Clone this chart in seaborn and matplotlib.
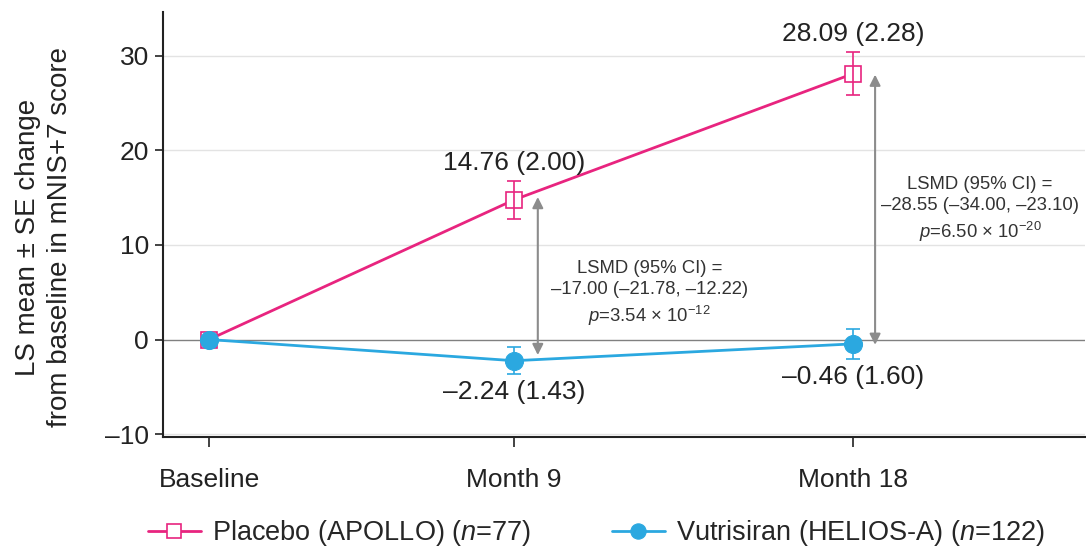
import matplotlib
matplotlib.use("Agg")
import matplotlib.pyplot as plt
import seaborn as sns
import pandas as pd

# ---- data ----
timepoints = ["Baseline", "Month 9", "Month 18"]
x_pos = [0, 9, 19]
placebo_mean = [0.0, 14.76, 28.09]
placebo_se = [0.0, 2.00, 2.28]
vutri_mean = [0.0, -2.24, -0.46]
vutri_se = [0.0, 1.43, 1.60]
placebo_labels = ["", "14.76 (2.00)", "28.09 (2.28)"]
vutri_labels = ["", "\u20132.24 (1.43)", "\u20130.46 (1.60)"]
lsmd_texts = [
    "LSMD (95% CI) =\n\u201317.00 (\u201321.78, \u201312.22)\n$\\mathit{p}$=3.54 \u00d7 10$^{\\mathregular{-12}}$",
    "LSMD (95% CI) =\n\u201328.55 (\u201334.00, \u201323.10)\n$\\mathit{p}$=6.50 \u00d7 10$^{\\mathregular{-20}}$",
]
legend_labels = ["Placebo (APOLLO) ($\\mathit{n}$=77)", "Vutrisiran (HELIOS-A) ($\\mathit{n}$=122)"]

PINK = "#E8247F"
BLUE = "#2BA8E0"

sns.set_style("white")
plt.rcParams["font.family"] = ["Liberation Sans", "DejaVu Sans"]
plt.rcParams["mathtext.fontset"] = "custom"
plt.rcParams["mathtext.rm"] = "Liberation Sans"
plt.rcParams["mathtext.it"] = "Liberation Sans:italic"
plt.rcParams["mathtext.default"] = "rm"

df_p = pd.DataFrame({"x": x_pos, "y": placebo_mean})
df_v = pd.DataFrame({"x": x_pos, "y": vutri_mean})

fig = plt.figure(figsize=(10.86, 5.49), dpi=100)
ax = fig.add_axes([0.150, 0.204, 0.849, 0.774])

# grid
for g in [-10, 10, 20, 30]:
    ax.axhline(g, color="#e3e3e3", lw=1.0, zorder=0)
ax.axhline(0, color="#808080", lw=1.0, zorder=1)

sns.lineplot(data=df_p, x="x", y="y", ax=ax, color=PINK, lw=2.0,
             marker="s", markersize=12, markerfacecolor="white",
             markeredgecolor=PINK, markeredgewidth=1.2, label=legend_labels[0], zorder=3)
ax.errorbar(x_pos[1:], placebo_mean[1:], yerr=placebo_se[1:], fmt="none",
            ecolor=PINK, elinewidth=1.2, capsize=5, capthick=1.2, zorder=3)

sns.lineplot(data=df_v, x="x", y="y", ax=ax, color=BLUE, lw=2.0,
             marker="o", markersize=13, markerfacecolor=BLUE,
             markeredgecolor=BLUE, label=legend_labels[1], zorder=4)
ax.errorbar(x_pos[1:], vutri_mean[1:], yerr=vutri_se[1:], fmt="none",
            ecolor=BLUE, elinewidth=1.2, capsize=5, capthick=1.2, zorder=4)

# value labels
for xi, yi, se, lab in zip(x_pos, placebo_mean, placebo_se, placebo_labels):
    if lab:
        ax.text(xi, yi + se + 0.6, lab, ha="center", va="bottom", fontsize=19, color="#222222")
for xi, yi, se, lab in zip(x_pos, vutri_mean, vutri_se, vutri_labels):
    if lab:
        ax.text(xi, yi - se - 0.6, lab, ha="center", va="top", fontsize=19, color="#222222")

# LSMD arrows
arrow_x = [x_pos[1] + 0.7, x_pos[2] + 0.65]
arrow_top = [placebo_mean[1] + 0.3, placebo_mean[2] - 0.1]
arrow_bot = [vutri_mean[1] + 0.6, vutri_mean[2] - 0.1]
for axx, top, bot in zip(arrow_x, arrow_top, arrow_bot):
    ax.annotate("", xy=(axx, top), xytext=(axx, bot),
                arrowprops=dict(arrowstyle="<|-|>", color="#8c8c8c", lw=1.5,
                                mutation_scale=16, shrinkA=0, shrinkB=0), zorder=2)

ax.text(13.0, 4.8, lsmd_texts[0], ha="center", va="center", fontsize=13.3,
        color="#333333", linespacing=1.3)
ax.text(22.75, 13.7, lsmd_texts[1], ha="center", va="center", fontsize=13.3,
        color="#333333", linespacing=1.3)

# axes styling
ax.set_xlim(-1.36, 25.84)
ax.set_ylim(-10.3, 34.6)
ax.set_xticks(x_pos)
ax.set_xticklabels(timepoints)
ax.set_yticks([-10, 0, 10, 20, 30])
ax.set_yticklabels(["\u201310", "0", "10", "20", "30"])
ax.tick_params(axis="both", labelsize=19, colors="#222222", direction="out")
ax.tick_params(axis="y", length=6, width=1.2, pad=4, left=True)
ax.tick_params(axis="x", length=7, width=1.2, pad=15, bottom=True)
ax.set_xlabel("")
ax.set_ylabel("LS mean \u00b1 SE change\nfrom baseline in mNIS+7 score", fontsize=20,
              color="#222222", linespacing=1.3)
ax.yaxis.set_label_coords(-0.098, 0.47)
for s in ["top", "right"]:
    ax.spines[s].set_visible(False)
for s in ["left", "bottom"]:
    ax.spines[s].set_color("#222222")
    ax.spines[s].set_linewidth(1.5)

handles, labels = ax.get_legend_handles_labels()
ax.get_legend().remove()
fig.legend(handles, labels, loc="center", bbox_to_anchor=(0.549, 0.029),
           ncol=2, frameon=False, fontsize=19.5, columnspacing=3.0,
           handlelength=1.95, handletextpad=0.4, markerscale=0.85)

fig.savefig("out.png", dpi=100)
